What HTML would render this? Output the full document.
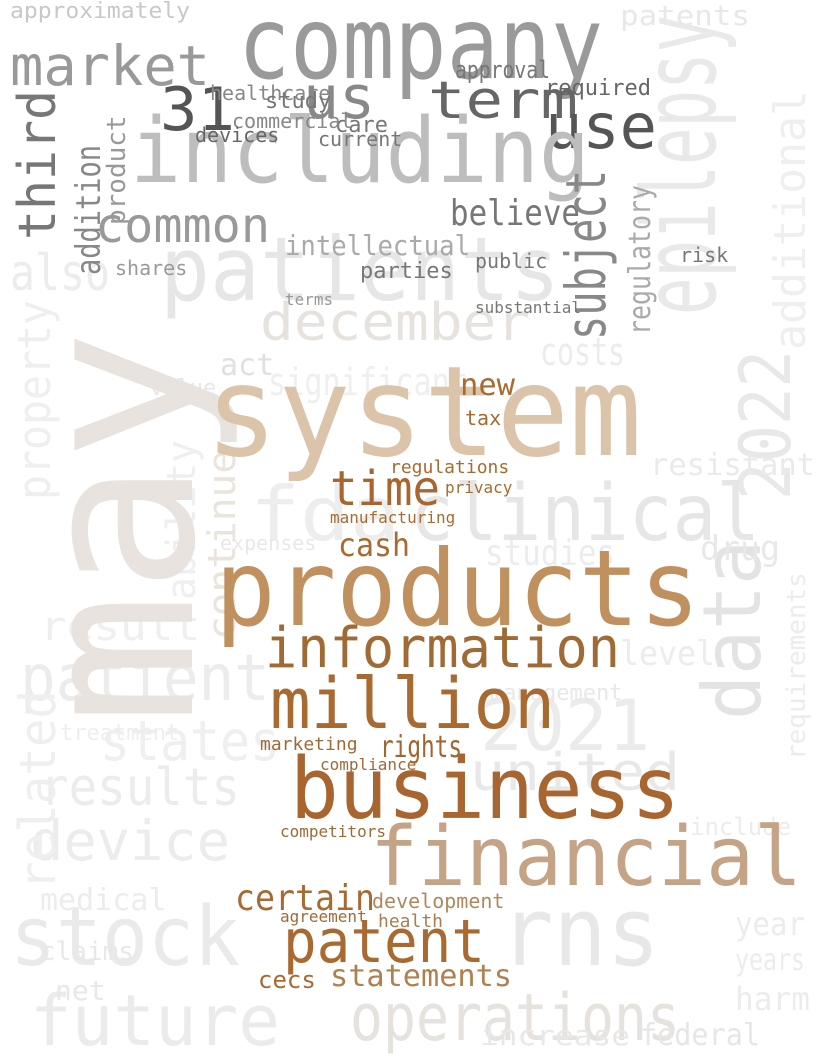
<!DOCTYPE html>
<html><head><meta charset="utf-8"><style>
html,body{margin:0;padding:0;background:#fff}
svg{display:block}
text{font-family:"DejaVu Sans Mono","Liberation Mono",monospace}
</style></head><body>
<svg width="820" height="1064" viewBox="0 0 820 1064">
<g fill="#ececec">
<text x="715" y="315" font-size="102" fill="#e9e9e9" transform="rotate(-90 715 315)" textLength="300" lengthAdjust="spacingAndGlyphs">epilepsy</text>
<text x="160" y="300" font-size="88" fill="#e6e6e6" textLength="400" lengthAdjust="spacingAndGlyphs">patients</text>
<text x="260" y="340" font-size="52" fill="#e6e2de" textLength="270" lengthAdjust="spacingAndGlyphs">december</text>
<text x="268" y="395" font-size="38" fill="#efefef" textLength="200" lengthAdjust="spacingAndGlyphs">significant</text>
<text x="540" y="365" font-size="38" fill="#ececec" textLength="85" lengthAdjust="spacingAndGlyphs">costs</text>
<text x="790" y="500" font-size="70" fill="#e8e8e8" transform="rotate(-90 790 500)" textLength="150" lengthAdjust="spacingAndGlyphs">2022</text>
<text x="805" y="350" font-size="44" fill="#efefef" transform="rotate(-90 805 350)" textLength="260" lengthAdjust="spacingAndGlyphs">additional</text>
<text x="250" y="540" font-size="75" fill="#ededed" textLength="150" lengthAdjust="spacingAndGlyphs">fda</text>
<text x="410" y="540" font-size="78" fill="#e6e6e6" textLength="350" lengthAdjust="spacingAndGlyphs">clinical</text>
<text x="760" y="720" font-size="80" fill="#e3e3e3" transform="rotate(-90 760 720)" textLength="180" lengthAdjust="spacingAndGlyphs">data</text>
<text x="480" y="750" font-size="70" fill="#ebebeb" textLength="170" lengthAdjust="spacingAndGlyphs">2021</text>
<text x="470" y="790" font-size="52" fill="#e8e8e8" textLength="210" lengthAdjust="spacingAndGlyphs">united</text>
<text x="20" y="700" font-size="64" fill="#ececec" textLength="250" lengthAdjust="spacingAndGlyphs">patient</text>
<text x="40" y="640" font-size="40" fill="#efefef" textLength="160" lengthAdjust="spacingAndGlyphs">result</text>
<text x="100" y="760" font-size="55" fill="#efefef" textLength="180" lengthAdjust="spacingAndGlyphs">states</text>
<text x="40" y="805" font-size="52" fill="#ececec" textLength="200" lengthAdjust="spacingAndGlyphs">results</text>
<text x="30" y="860" font-size="55" fill="#ececec" textLength="200" lengthAdjust="spacingAndGlyphs">device</text>
<text x="10" y="965" font-size="82" fill="#eaeaea" textLength="230" lengthAdjust="spacingAndGlyphs">stock</text>
<text x="30" y="1045" font-size="70" fill="#ebebeb" textLength="250" lengthAdjust="spacingAndGlyphs">future</text>
<text x="500" y="965" font-size="95" fill="#e8e8e8" textLength="160" lengthAdjust="spacingAndGlyphs">rns</text>
<text x="350" y="1040" font-size="65" fill="#e6e2de" textLength="330" lengthAdjust="spacingAndGlyphs">operations</text>
<text x="55" y="890" font-size="50" fill="#efefef" transform="rotate(-90 55 890)" textLength="200" lengthAdjust="spacingAndGlyphs">related</text>
<text x="50" y="500" font-size="45" fill="#efefef" transform="rotate(-90 50 500)" textLength="200" lengthAdjust="spacingAndGlyphs">property</text>
<text x="10" y="290" font-size="50" fill="#ececec" textLength="100" lengthAdjust="spacingAndGlyphs">also</text>
<text x="195" y="600" font-size="40" fill="#efefef" transform="rotate(-90 195 600)" textLength="160" lengthAdjust="spacingAndGlyphs">ability</text>
<text x="235" y="640" font-size="38" fill="#e9e5dc" transform="rotate(-90 235 640)" textLength="190" lengthAdjust="spacingAndGlyphs">continue</text>
<text x="485" y="565" font-size="36" fill="#ececec" textLength="130" lengthAdjust="spacingAndGlyphs">studies</text>
<text x="700" y="560" font-size="34" fill="#e8e8e8" textLength="80" lengthAdjust="spacingAndGlyphs">drug</text>
<text x="650" y="475" font-size="30" fill="#eaeaea" textLength="165" lengthAdjust="spacingAndGlyphs">resistant</text>
<text x="620" y="665" font-size="34" fill="#ececec" textLength="95" lengthAdjust="spacingAndGlyphs">level</text>
<text x="735" y="935" font-size="32" fill="#ececec" textLength="70" lengthAdjust="spacingAndGlyphs">year</text>
<text x="735" y="970" font-size="30" fill="#ececec" textLength="70" lengthAdjust="spacingAndGlyphs">years</text>
<text x="735" y="1010" font-size="32" fill="#ececec" textLength="75" lengthAdjust="spacingAndGlyphs">harm</text>
<text x="480" y="1045" font-size="28" fill="#e8e8e8" textLength="150" lengthAdjust="spacingAndGlyphs">increase</text>
<text x="640" y="1045" font-size="30" fill="#e6e6e6" textLength="120" lengthAdjust="spacingAndGlyphs">federal</text>
<text x="620" y="25" font-size="28" fill="#e8e8e8" textLength="130" lengthAdjust="spacingAndGlyphs">patents</text>
<text x="10" y="18" font-size="22" fill="#c8c8c8" textLength="180" lengthAdjust="spacingAndGlyphs">approximately</text>
<text x="60" y="740" font-size="22" fill="#eeeeee">treatment</text>
<text x="40" y="910" font-size="30" fill="#ececec">medical</text>
<text x="40" y="960" font-size="26" fill="#e8e8e8">claims</text>
<text x="55" y="1000" font-size="28" fill="#e8e8e8">net</text>
<text x="220" y="550" font-size="20" fill="#e8e8e8">expenses</text>
<text x="150" y="395" font-size="22" fill="#e6e6e6">value</text>
<text x="220" y="375" font-size="30" fill="#e0e0e0">act</text>
<text x="805" y="760" font-size="26" fill="#ececec" transform="rotate(-90 805 760)">requirements</text>
<text x="690" y="835" font-size="24" fill="#ececec">include</text>
<text x="490" y="700" font-size="22" fill="#e8e8e8">management</text>
</g>

<g>
<text x="192" y="725" font-size="215" fill="#e8e3de" transform="rotate(-90 192 725)" textLength="395" lengthAdjust="spacingAndGlyphs">may</text>
<text x="238" y="78" font-size="100" fill="#9a9a9a" textLength="365" lengthAdjust="spacingAndGlyphs">company</text>
<text x="10" y="85" font-size="55" fill="#999" textLength="200" lengthAdjust="spacingAndGlyphs">market</text>
<text x="303" y="118" font-size="60" fill="#888" textLength="72" lengthAdjust="spacingAndGlyphs">us</text>
<text x="160" y="130" font-size="60" fill="#555" textLength="75" lengthAdjust="spacingAndGlyphs">31</text>
<text x="428" y="118" font-size="52" fill="#666" textLength="150" lengthAdjust="spacingAndGlyphs">term</text>
<text x="545" y="148" font-size="62" fill="#555" textLength="112" lengthAdjust="spacingAndGlyphs">use</text>
<text x="455" y="78" font-size="24" fill="#777" textLength="95" lengthAdjust="spacingAndGlyphs">approval</text>
<text x="210" y="100" font-size="20" fill="#888">healthcare</text>
<text x="130" y="182" font-size="90" fill="#bdbdbd" textLength="460" lengthAdjust="spacingAndGlyphs">including</text>
<text x="55" y="240" font-size="52" fill="#777" transform="rotate(-90 55 240)" textLength="150" lengthAdjust="spacingAndGlyphs">third</text>
<text x="100" y="275" font-size="34" fill="#888" transform="rotate(-90 100 275)" textLength="130" lengthAdjust="spacingAndGlyphs">addition</text>
<text x="125" y="225" font-size="26" fill="#999" transform="rotate(-90 125 225)">product</text>
<text x="95" y="242" font-size="48" fill="#999" textLength="175" lengthAdjust="spacingAndGlyphs">common</text>
<text x="450" y="225" font-size="36" fill="#777" textLength="130" lengthAdjust="spacingAndGlyphs">believe</text>
<text x="285" y="255" font-size="28" fill="#aaa" textLength="185" lengthAdjust="spacingAndGlyphs">intellectual</text>
<text x="605" y="340" font-size="55" fill="#888" transform="rotate(-90 605 340)" textLength="170" lengthAdjust="spacingAndGlyphs">subject</text>
<text x="650" y="335" font-size="30" fill="#aaa" transform="rotate(-90 650 335)" textLength="150" lengthAdjust="spacingAndGlyphs">regulatory</text>
<text x="265" y="108" font-size="22" fill="#777">study</text>
<text x="335" y="132" font-size="22" fill="#777">care</text>
<text x="232" y="128" font-size="20" fill="#888">commercial</text>
<text x="318" y="146" font-size="20" fill="#777">current</text>
<text x="195" y="142" font-size="20" fill="#666">devices</text>
<text x="545" y="95" font-size="22" fill="#666">required</text>
<text x="360" y="278" font-size="22" fill="#777">parties</text>
<text x="475" y="268" font-size="20" fill="#777">public</text>
<text x="680" y="262" font-size="20" fill="#777">risk</text>
<text x="115" y="275" font-size="20" fill="#999">shares</text>
<text x="285" y="305" font-size="16" fill="#999">terms</text>
<text x="475" y="313" font-size="16" fill="#777">substantial</text>

<text x="205" y="455" font-size="125" fill="#dcc4aa" textLength="437" lengthAdjust="spacingAndGlyphs">system</text>
<text x="460" y="395" font-size="30" fill="#a86a30" textLength="55" lengthAdjust="spacingAndGlyphs">new</text>
<text x="465" y="425" font-size="20" fill="#a86a30">tax</text>
<text x="330" y="505" font-size="48" fill="#a8652f" textLength="110" lengthAdjust="spacingAndGlyphs">time</text>
<text x="390" y="473" font-size="18" fill="#a86a30">regulations</text>
<text x="445" y="493" font-size="16" fill="#a86a30">privacy</text>
<text x="330" y="523" font-size="16" fill="#a86a30">manufacturing</text>
<text x="338" y="556" font-size="32" fill="#a86a30" textLength="72" lengthAdjust="spacingAndGlyphs">cash</text>
<text x="215" y="625" font-size="105" fill="#c0915f" textLength="485" lengthAdjust="spacingAndGlyphs">products</text>
<text x="265" y="667" font-size="56" fill="#a06a35" textLength="355" lengthAdjust="spacingAndGlyphs">information</text>
<text x="270" y="728" font-size="70" fill="#a86a30" textLength="285" lengthAdjust="spacingAndGlyphs">million</text>
<text x="380" y="757" font-size="30" fill="#a0662f" textLength="82" lengthAdjust="spacingAndGlyphs">rights</text>
<text x="260" y="750" font-size="18" fill="#a06a35">marketing</text>
<text x="320" y="770" font-size="16" fill="#a06a35">compliance</text>
<text x="290" y="818" font-size="85" fill="#a8652f" textLength="390" lengthAdjust="spacingAndGlyphs">business</text>
<text x="370" y="885" font-size="82" fill="#c4a386" textLength="432" lengthAdjust="spacingAndGlyphs">financial</text>
<text x="235" y="910" font-size="36" fill="#a86a30" textLength="140" lengthAdjust="spacingAndGlyphs">certain</text>
<text x="280" y="837" font-size="16" fill="#a06a35">competitors</text>
<text x="372" y="908" font-size="20" fill="#b0885e">development</text>
<text x="378" y="927" font-size="18" fill="#a87e52">health</text>
<text x="280" y="922" font-size="16" fill="#a06a35">agreement</text>
<text x="283" y="962" font-size="60" fill="#a86a30" textLength="202" lengthAdjust="spacingAndGlyphs">patent</text>
<text x="330" y="986" font-size="30" fill="#b08050" textLength="182" lengthAdjust="spacingAndGlyphs">statements</text>
<text x="258" y="988" font-size="24" fill="#a86a30">cecs</text>
</g>
</svg>
</body></html>
